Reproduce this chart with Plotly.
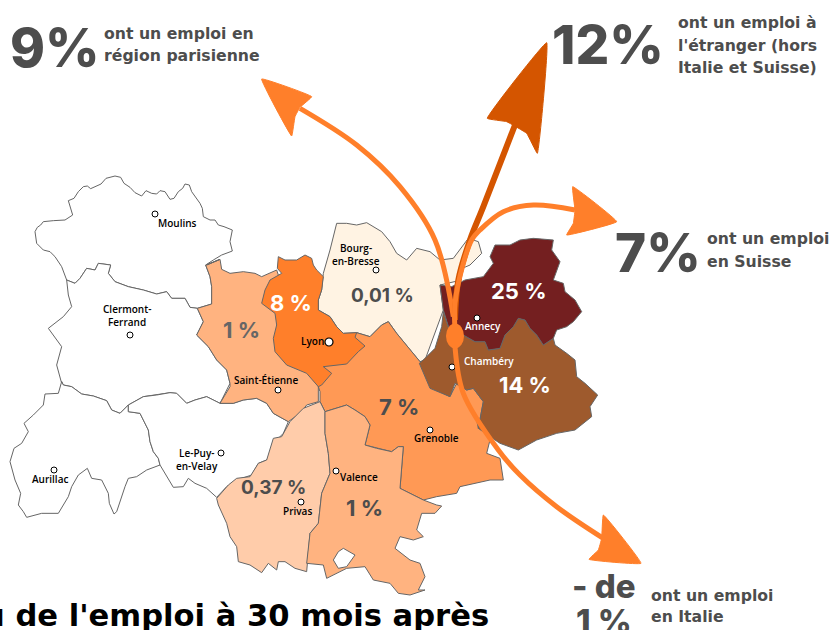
import plotly.graph_objects as go

# Offsets of the traced outlines (outlines were traced at 3x from these corners)
Z1, Z2, Z3, Z4, Z5, Z6, Z7 = (0, 170), (0, 380), (190, 210), (410, 220), (210, 390), (250, 0), (440, 450)


def px(z, pts):
    return [(z[0] + x / 3, z[1] + y / 3) for x, y in pts]


allier = px(Z1, [(105,185),(112,172),(122,165),(130,155),(160,152),(195,150),(218,135),(212,115),(205,92),(222,85),(235,65),(250,50),(262,48),(272,56),(290,48),(303,42),(318,25),(345,18),(362,22),(372,40),(390,52),(405,68),(425,78),(438,62),(455,70),(470,72),(480,62),(495,65),(510,88),(522,85),(535,65),(548,55),(555,42),(568,45),(575,65),(585,80),(600,100),(607,115),(610,140),(630,150),(645,150),(655,165),(672,170),(697,180),(690,215),(697,243),(665,255),(640,270),(617,285),(630,320),(635,350),(635,402),(592,415),(570,412),(555,385),(515,385),(500,365),(470,372),(430,360),(385,350),(345,335),(325,310),(332,285),(295,280),(285,300),(260,295),(240,325),(225,340),(200,330),(185,290),(165,260),(150,245),(130,240),(110,220)])
puy_de_dome = px(Z1, [(200,330),(225,340),(240,325),(260,295),(285,300),(295,280),(332,285),(325,310),(345,335),(385,350),(430,360),(470,372),(500,365),(515,385),(555,385),(570,412),(592,415),(610,455),(590,495),(625,530),(650,570),(680,600),(690,640)]) + px(Z2, [(660,70),(620,50),(585,60),(560,70),(530,40),(510,38),(470,45),(430,50),(385,75),(360,100),(335,90),(320,62),(280,48),(245,42),(215,20),(190,15),(185,5)]) + px(Z1, [(185,640),(170,585),(185,530),(145,475),(190,440),(215,410),(205,375)])
cantal = px(Z2, [(185,5),(190,15),(215,20),(245,42),(280,48),(320,62),(335,90),(360,100),(385,75),(385,95),(420,100),(430,120),(445,150),(450,185),(460,215),(475,235),(480,255),(440,270),(410,290),(385,295),(375,320),(350,395),(342,402),(328,370),(325,340),(305,300),(275,295),(262,265),(235,285),(215,320),(205,350),(175,400),(125,400),(80,412),(70,395),(55,375),(62,340),(45,300),(30,245),(42,205),(65,190),(85,155),(72,130),(100,105),(130,75),(135,42),(175,40)])
haute_loire = px(Z2, [(385,75),(430,50),(470,45),(510,38),(530,40),(560,70),(585,60),(620,50),(660,70),(700,70),(730,60),(770,55),(800,70),(820,100),(865,125),(850,160),(835,175),(820,215),(800,240),(775,250),(755,285),(710,300),(680,320),(650,352),(620,325),(585,310),(565,295),(550,320),(520,322),(500,290),(480,255),(475,235),(460,215),(450,185),(445,150),(430,120),(420,100),(385,95)])
loire = px(Z3, [(50,165),(90,148),(95,178),(120,190),(160,185),(195,190),(215,200),(260,180),(300,300),(330,400),(385,525),(385,575),(350,585),(330,610)]) + px(Z2, [(865,125),(820,100),(800,70),(770,55),(730,60),(700,70),(660,70),(690,20)]) + px(Z1, [(690,640),(680,600),(650,570),(625,530),(590,495),(610,455),(592,415),(635,402),(635,350),(630,320),(617,285),(660,268)])
rhone = px(Z3, [(265,140),(285,150),(320,150),(345,135),(365,145),(370,165),(380,180),(400,200),(395,240),(385,270),(385,300),(420,320),(440,350),(460,370),(500,368),(495,382),(525,408),(505,425),(470,462),(400,470),(425,490),(395,525),(385,530),(350,490),(290,465),(255,425),(250,385),(260,345),(255,310),(215,280),(225,240),(240,210),(275,190),(262,175)])
ain = px(Z3, [(400,190),(420,120),(440,40),(470,40),(500,45),(530,38),(575,65),(600,95),(620,130),(650,150),(680,115),(720,125),(750,150),(790,145),(835,85)]) + px(Z4, [(205,65),(215,100),(180,135),(145,150),(155,180),(90,195),(100,270),(45,420)]) + px(Z3, [(690,455),(665,425),(620,370),(595,335),(575,345),(540,380),(500,368),(460,370),(440,350),(420,320),(385,300),(385,270),(395,240)])
isere = px(Z3, [(500,368),(540,380),(575,345),(595,335),(620,370),(665,425),(690,455),(715,490),(740,540),(780,560),(800,520)]) + px(Z4, [(170,510),(190,505),(220,545),(205,625)]) + px(Z5, [(800,90),(835,130),(840,150),(830,190),(870,205),(880,270),(840,270),(790,280),(750,290),(740,310),(680,320),(640,330),(600,310),(570,295),(580,170),(565,170),(545,185),(500,175),(465,165),(480,105),(465,80),(435,60),(410,45),(345,65),(330,35),(330,5)]) + px(Z3, [(385,530),(400,470)])
drome = px(Z5, [(345,65),(410,45),(435,60),(465,80),(480,105),(465,165),(500,175),(545,185),(565,170),(580,170),(570,295),(600,310),(640,330),(680,345),(695,348),(675,370),(635,370),(620,420),(640,440),(610,450),(570,440),(555,475),(600,510),(630,520),(645,560),(625,600),(645,600),(600,615),(565,610),(540,580),(490,570),(465,530),(410,535),(350,565),(340,525),(290,520),(300,430),(325,400),(335,310),(360,250),(355,190),(345,130)])
drome_hole = px(Z5, [(370,510),(385,485),(400,475),(435,495),(410,530),(385,535)])
ardeche = px(Z5, [(330,35),(345,65),(345,130),(355,190),(360,250),(335,310),(325,400),(300,430),(290,545),(255,535),(225,515),(205,515),(200,540),(175,520),(155,548),(120,525),(85,515),(80,470),(60,440),(50,400),(25,345),(20,325),(55,285),(80,265),(120,260),(145,220),(170,210),(190,145),(215,140),(240,95),(280,55)])
haute_savoie = px(Z4, [(90,195),(125,200),(165,180),(220,170),(250,130),(240,110),(255,75),(300,75),(330,60),(370,55),(430,60),(425,90),(450,125),(430,180),(460,190),(465,215),(495,240),(515,275),(490,305),(470,320),(440,330),(430,355),(400,375),(380,345),(360,325),(345,300),(325,295),(310,320),(285,345),(270,385),(235,390),(225,365),(195,365),(160,345),(120,335),(100,270)])
savoie = px(Z4, [(100,275),(120,335),(160,345),(195,365),(225,365),(235,390),(270,385),(285,345),(310,320),(325,295),(345,300),(360,325),(380,345),(400,375),(430,355),(435,375),(470,400),(495,420),(500,470),(525,490),(563,525),(540,560),(545,590),(495,630),(440,640),(380,660),(325,690),(270,670),(240,650),(205,625),(220,545),(190,505),(170,510),(135,490),(120,530),(60,505),(28,430),(45,415),(75,385),(95,320)])

regions = [
    (allier, "#ffffff"), (puy_de_dome, "#ffffff"), (cantal, "#ffffff"), (haute_loire, "#ffffff"),
    (loire, "#ffb380"), (ain, "#fff3e3"), (isere, "#ff9955"), (ardeche, "#ffccaa"), (drome, "#ffb380"),
    (drome_hole, "#ffffff"), (rhone, "#ff7f2a"), (savoie, "#9e5a2d"), (haute_savoie, "#741f20"),
]

city_names = ["Moulins", "Clermont-Ferrand", "Saint-Étienne", "Le-Puy-en-Velay", "Aurillac", "Bourg-en-Bresse",
              "Annecy", "Chambéry", "Grenoble", "Valence", "Privas"]
city_x = [155, 130, 278, 221, 54, 376, 477, 452, 430, 336, 301]
city_y = [214, 335, 390, 453, 470, 270, 318, 367, 430, 471, 502]
lyon = (329, 342)

city_labels = [
    ("Moulins", 177, 223, "#000"), ("Clermont-", 127, 309, "#000"), ("Ferrand", 127, 322, "#000"),
    ("Saint-Étienne", 266, 380, "#000"), ("Le-Puy-", 196, 453, "#000"), ("en-Velay", 197, 466, "#000"),
    ("Aurillac", 50, 479, "#000"), ("Bourg-", 356, 248, "#000"), ("en-Bresse", 356, 261, "#000"),
    ("Lyon", 312, 341, "#000"), ("Annecy", 483, 326, "#fff"), ("Chambéry", 489, 361, "#fff"),
    ("Grenoble", 436, 438, "#000"), ("Valence", 359, 477, "#000"), ("Privas", 297, 511, "#000"),
]
share_labels = [
    ("25 %", 518, 291, "#ffffff", 22), ("14 %", 525, 385, "#ffffff", 22), ("8 %", 291, 303, "#ffffff", 22),
    ("1 %", 241, 330, "#666666", 22), ("0,01 %", 382, 295, "#4d4d4d", 19), ("7 %", 399, 407, "#4d4d4d", 22),
    ("0,37 %", 273, 487, "#4d4d4d", 19), ("1 %", 364, 508, "#4d4d4d", 22),
]
big_labels = [("9%", 55, 48, 53), ("12%", 608, 45, 53), ("7%", 658, 253, 53), ("- de", 604, 586, 33), ("1 %", 604, 621, 33)]
notes = [
    ("ont un emploi en", 104, 33), ("région parisienne", 104, 55),
    ("ont un emploi à", 678, 22), ("l'étranger (hors", 678, 45), ("Italie et Suisse)", 678, 67),
    ("ont un emploi", 707, 238), ("en Suisse", 707, 261),
    ("ont un emploi", 651, 595), ("en Italie", 651, 616),
]
title_text = "u de l'emploi à 30 mois après"

ORANGE, DARK = "#ff7f2a", "#d45500"
paris_line = px(Z4, [(130,290),(75,60)]) + px(Z6, [(450,560),(320,435),(150,325)])
italy_line = [(455, 336)] + px(Z4, [(135,380),(160,520)]) + px(Z7, [(175,0),(240,75),(350,170),(490,265)])
abroad_line = px(Z4, [(135,300),(145,180)]) + px(Z6, [(660,720),(700,620),(795,375)])
swiss_line = px(Z4, [(135,330),(135,250),(160,130)]) + px(Z6, [(665,720),(690,690),(760,635),(850,615),(975,630)])
paris_head = px(Z6, [(35,237),(185,290),(150,322),(135,350),(125,408)])
abroad_head = px(Z6, [(890,128),(862,460),(830,400),(770,365),(712,355)])
swiss_head = px(Z6, [(1100,665),(950,705),(970,670),(975,630),(968,560)])
italy_head = px(Z7, [(603,340),(447,328),(475,300),(485,265),(490,195)])
arrows = [(paris_line, paris_head, ORANGE, 5), (italy_line, italy_head, ORANGE, 5),
          (abroad_line, abroad_head, DARK, 6), (swiss_line, swiss_head, ORANGE, 5)]
origin = (455, 336)

fig = go.Figure()
for pts, col in regions:
    xs, ys = zip(*(pts + pts[:1]))
    fig.add_trace(go.Scatter(x=xs, y=ys, mode="lines", fill="toself", fillcolor=col,
                             line=dict(color="#666666", width=1), hoverinfo="skip"))
fig.add_trace(go.Scatter(x=city_x, y=city_y, text=city_names, mode="markers",
                         marker=dict(size=6, color="#fff", line=dict(color="#000", width=1)), hoverinfo="text"))
fig.add_trace(go.Scatter(x=[lyon[0]], y=[lyon[1]], text=["Lyon"], mode="markers",
                         marker=dict(size=8, color="#fff", line=dict(color="#000", width=1.2)), hoverinfo="text"))
for line, head, col, w in arrows:
    xs, ys = zip(*line)
    fig.add_trace(go.Scatter(x=xs, y=ys, mode="lines", line=dict(color=col, width=w, shape="spline"), hoverinfo="skip"))
    xs, ys = zip(*(head + head[:1]))
    fig.add_trace(go.Scatter(x=xs, y=ys, mode="lines", fill="toself", fillcolor=col,
                             line=dict(color=col, width=1, shape="spline", smoothing=0.25), hoverinfo="skip"))

shapes = [dict(type="circle", xref="x", yref="y", x0=origin[0] - 9, x1=origin[0] + 9, y0=origin[1] - 12.5,
               y1=origin[1] + 12.5, fillcolor=ORANGE, line=dict(width=0))]

ann = []
BOLD = "Inter, sans-serif"
WIDE = "DejaVu Sans, sans-serif"
for t, x, y, c in city_labels:
    ann.append(dict(text=t, x=x, y=y, font=dict(family="Open Sans", size=10, color=c, weight=600), xanchor="center"))
for t, x, y, c, s in share_labels:
    ann.append(dict(text=t, x=x, y=y, font=dict(family=BOLD, size=s, color=c, weight=700), xanchor="center"))
for t, x, y, s in big_labels:
    ann.append(dict(text=t, x=x, y=y, font=dict(family=BOLD, size=s, color="#4d4d4d", weight=800), xanchor="center"))
for t, x, y in notes:
    ann.append(dict(text=t, x=x, y=y, font=dict(family=WIDE, size=15.7, color="#4d4d4d", weight=700), xanchor="left"))
ann.append(dict(text=title_text, x=489, y=615, font=dict(family=WIDE, size=30.6, color="#000", weight=700), xanchor="right"))
for a in ann:
    a.update(xref="x", yref="y", showarrow=False, yanchor="middle", borderpad=0, borderwidth=0)

fig.update_layout(width=834, height=630, margin=dict(l=0, r=0, t=0, b=0), showlegend=False,
                  paper_bgcolor="#fff", plot_bgcolor="#fff", shapes=shapes, annotations=ann,
                  xaxis=dict(range=[0, 834], visible=False, fixedrange=True),
                  yaxis=dict(range=[630, 0], visible=False, fixedrange=True))
fig.write_html("out.html", config=dict(displayModeBar=False),
               post_script="document.body.style.margin='0';document.body.style.overflow='hidden';")
